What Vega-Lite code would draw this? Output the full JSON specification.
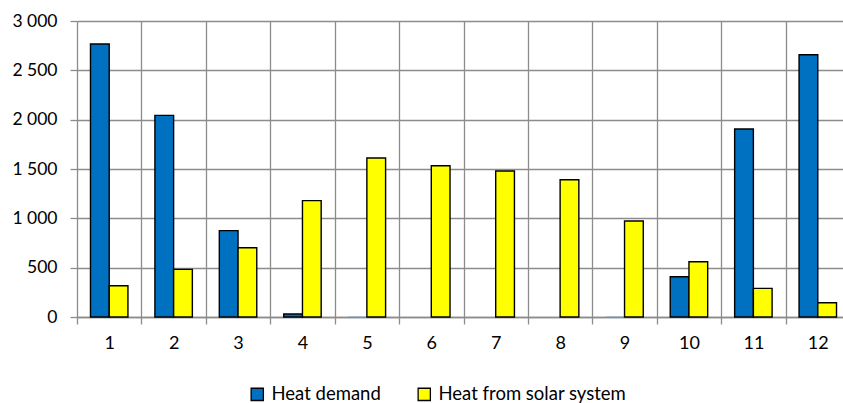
{
  "$schema": "https://vega.github.io/schema/vega-lite/v6.json",
  "autosize": "none",
  "padding": {"left": 77, "top": 21, "right": 0, "bottom": 86},
  "width": 773,
  "height": 296,
  "background": "white",
  "config": {
    "font": "Lato",
    "view": {"stroke": null},
    "axis": {"labelFont": "Lato", "labelFontSize": 18, "labelColor": "#000000", "gridColor": "#8c8c8c", "gridWidth": 1.3, "tickColor": "#8c8c8c", "tickWidth": 1.3, "domainColor": "#8c8c8c", "domainWidth": 1.3}
  },
  "data": {
    "values": [
      {"month": 1, "series": "Heat demand", "value": 2767},
      {"month": 1, "series": "Heat from solar system", "value": 317},
      {"month": 2, "series": "Heat demand", "value": 2043},
      {"month": 2, "series": "Heat from solar system", "value": 483},
      {"month": 3, "series": "Heat demand", "value": 875},
      {"month": 3, "series": "Heat from solar system", "value": 702},
      {"month": 4, "series": "Heat demand", "value": 30},
      {"month": 4, "series": "Heat from solar system", "value": 1179},
      {"month": 5, "series": "Heat demand", "value": 2},
      {"month": 5, "series": "Heat from solar system", "value": 1611},
      {"month": 6, "series": "Heat demand", "value": 0},
      {"month": 6, "series": "Heat from solar system", "value": 1533},
      {"month": 7, "series": "Heat demand", "value": 0},
      {"month": 7, "series": "Heat from solar system", "value": 1480},
      {"month": 8, "series": "Heat demand", "value": 0},
      {"month": 8, "series": "Heat from solar system", "value": 1391},
      {"month": 9, "series": "Heat demand", "value": 2},
      {"month": 9, "series": "Heat from solar system", "value": 973},
      {"month": 10, "series": "Heat demand", "value": 408},
      {"month": 10, "series": "Heat from solar system", "value": 560},
      {"month": 11, "series": "Heat demand", "value": 1905},
      {"month": 11, "series": "Heat from solar system", "value": 290},
      {"month": 12, "series": "Heat demand", "value": 2658},
      {"month": 12, "series": "Heat from solar system", "value": 145}
    ]
  },
  "mark": {"type": "bar", "strokeWidth": 1.4},
  "encoding": {
    "x": {
      "field": "month",
      "type": "ordinal",
      "scale": {"paddingInner": 0, "paddingOuter": 0},
      "axis": {"title": null, "labelAngle": 0, "tickBand": "extent", "grid": true, "tickSize": 7, "labelPadding": 10, "domain": true}
    },
    "xOffset": {
      "field": "series",
      "type": "nominal",
      "scale": {"paddingInner": 0, "paddingOuter": 0.72}
    },
    "y": {
      "field": "value",
      "type": "quantitative",
      "scale": {"domain": [0, 3000], "nice": false},
      "axis": {"title": null, "values": [0, 500, 1000, 1500, 2000, 2500, 3000], "grid": true, "tickSize": 7, "labelPadding": 13, "domain": false, "labelFontSize": 17.5, "labelExpr": "replace(format(datum.value, ','), ',', ' ')"}
    },
    "stroke": {
      "condition": {"test": "datum.value < 5", "value": null},
      "value": "#000000"
    },
    "color": {
      "field": "series",
      "type": "nominal",
      "scale": {"domain": ["Heat demand", "Heat from solar system"], "range": ["#0070C0", "#FFFF00"]},
      "legend": {
        "title": null,
        "orient": "none",
        "direction": "horizontal",
        "legendX": 171,
        "legendY": 364,
        "symbolType": "square",
        "symbolSize": 150,
        "symbolStrokeColor": "#000000",
        "symbolStrokeWidth": 1.3,
        "labelFontSize": 18.5,
        "labelFont": "Lato",
        "labelColor": "#000000",
        "labelLimit": 400,
        "columnPadding": 34,
        "labelOffset": 5
      }
    }
  }
}
